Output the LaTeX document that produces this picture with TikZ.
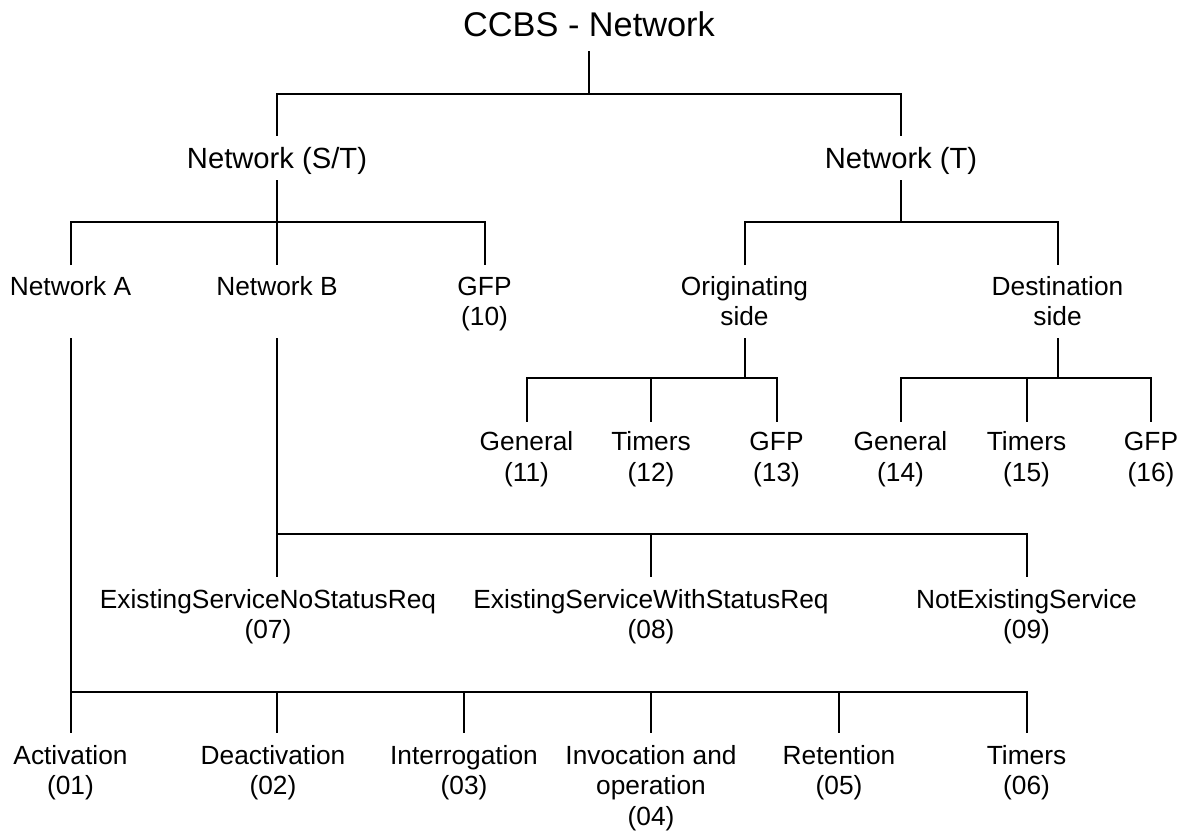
\documentclass[tikz,border=0pt]{standalone}
\usepackage{fontspec}
\setmainfont{Liberation Sans}
\newcommand\mytop{\rule{0pt}{0.85em}}
\newcommand\mybot{\rule[-0.27em]{0pt}{0.27em}}
\begin{document}
\begin{tikzpicture}[x=1pt,y=-1pt,
  lab/.style={inner sep=0pt, anchor=north, align=center},
  sm/.style={lab, font=\fontsize{26.3}{30.5}\selectfont, yshift=22.355pt},
  md/.style={lab, font=\fontsize{29.2}{33}\selectfont, yshift=24.82pt},
  tt/.style={lab, font=\fontsize{34.3}{39}\selectfont, yshift=29.155pt},
  conn/.style={line width=2pt, line join=miter}]
\useasboundingbox[fill=white] (0,0) rectangle (1188,830);

% nodes
\node[tt] (title) at (589,36.7) {\mytop CCBS - Network\mybot};
\node[md] (nst) at (277,168.3) {\mytop Network (S/T)\mybot};
\node[md] (nt) at (901,168.3) {\mytop Network (T)\mybot};
\node[sm] (na) at (70.5,295) {\mytop Network A\mybot};
\node[sm] (nb) at (277,295) {\mytop Network B\mybot};
\node[sm] (g10) at (484.5,295) {\mytop GFP\\(10)\mybot};
\node[sm] (og) at (744.5,295) {\mytop Originating\\side\mybot};
\node[sm] (ds) at (1057.5,295) {\mytop Destination\\side\mybot};
\node[sm] (g11) at (526.5,450.7) {\mytop General\\(11)\mybot};
\node[sm] (t12) at (651,450.7) {\mytop Timers\\(12)\mybot};
\node[sm] (g13) at (776.5,450.7) {\mytop GFP\\(13)\mybot};
\node[sm] (g14) at (900.5,450.7) {\mytop General\\(14)\mybot};
\node[sm] (t15) at (1026.5,450.7) {\mytop Timers\\(15)\mybot};
\node[sm] (g16) at (1151,450.7) {\mytop GFP\\(16)\mybot};
\node[sm] (e07) at (268,608) {\mytop ExistingServiceNoStatusReq\\(07)\mybot};
\node[sm] (e08) at (651,608) {\mytop ExistingServiceWithStatusReq\\(08)\mybot};
\node[sm] (e09) at (1026.5,608) {\mytop NotExistingService\\(09)\mybot};
\node[sm] (a01) at (70.5,764) {\mytop Activation\\(01)\mybot};
\node[sm] (a02) at (273,764) {\mytop Deactivation\\(02)\mybot};
\node[sm] (a03) at (464,764) {\mytop Interrogation\\(03)\mybot};
\node[sm] (a04) at (651,764) {\mytop Invocation and\\operation\\(04)\mybot};
\node[sm] (a05) at (839,764) {\mytop Retention\\(05)\mybot};
\node[sm] (a06) at (1026.5,764) {\mytop Timers\\(06)\mybot};

% junctions
\coordinate (j0) at (589,94);
\coordinate (j1) at (277,222);
\coordinate (j2) at (901,222);
\coordinate (j3) at (744.5,378);
\coordinate (j4) at (1057.5,378);
\coordinate (j5) at (277,534.3);
\coordinate (j6) at (70.5,691.7);
\coordinate (k2) at (277,691.7);

% level 0
\draw[conn, shorten <=5pt] (title.south) -- (j0);
\draw[conn, shorten <=7.5pt, shorten >=7.5pt] (nst.north) -- (nst.north |- j0) -- (nt.north |- j0) -- (nt.north);

% Network (S/T)
\draw[conn, shorten <=3.8pt] (nst.south) -- (j1);
\draw[conn, shorten <=7.6pt, shorten >=7.6pt] (na.north) -- (na.north |- j1) -- (g10.north |- j1) -- (g10.north);
\draw[conn, shorten >=7.6pt] (j1) -- (nb.north);

% Network (T)
\draw[conn, shorten <=3.8pt] (nt.south) -- (j2);
\draw[conn, shorten <=7.6pt, shorten >=7.6pt] (og.north) -- (og.north |- j2) -- (ds.north |- j2) -- (ds.north);

% Originating side
\draw[conn, shorten <=5.4pt] (og.south) -- (j3);
\draw[conn, shorten <=6.6pt, shorten >=6.6pt] (g11.north) -- (g11.north |- j3) -- (g13.north |- j3) -- (g13.north);
\draw[conn, shorten >=6.6pt] (t12.north |- j3) -- (t12.north);

% Destination side
\draw[conn, shorten <=5.4pt] (ds.south) -- (j4);
\draw[conn, shorten <=6.6pt, shorten >=6.6pt] (g14.north) -- (g14.north |- j4) -- (g16.north |- j4) -- (g16.north);
\draw[conn, shorten >=6.6pt] (t15.north |- j4) -- (t15.north);

% Network B
\draw[conn, shorten <=5.4pt, shorten >=8.6pt] (nb |- og.south) -- (nb |- e07.north);
\draw[conn, shorten >=8.6pt] (j5) -- (e09.north |- j5) -- (e09.north);
\draw[conn, shorten >=8.6pt] (e08.north |- j5) -- (e08.north);

% Network A
\draw[conn, shorten <=5.4pt, shorten >=8.6pt] (na |- og.south) -- (na |- a01.north);
\draw[conn, shorten >=8.6pt] (j6) -- (a06.north |- j6) -- (a06.north);
\draw[conn, shorten >=8.6pt] (k2) -- (k2 |- a02.north);
\draw[conn, shorten >=8.6pt] (a03.north |- j6) -- (a03.north);
\draw[conn, shorten >=8.6pt] (a04.north |- j6) -- (a04.north);
\draw[conn, shorten >=8.6pt] (a05.north |- j6) -- (a05.north);
\end{tikzpicture}
\end{document}
